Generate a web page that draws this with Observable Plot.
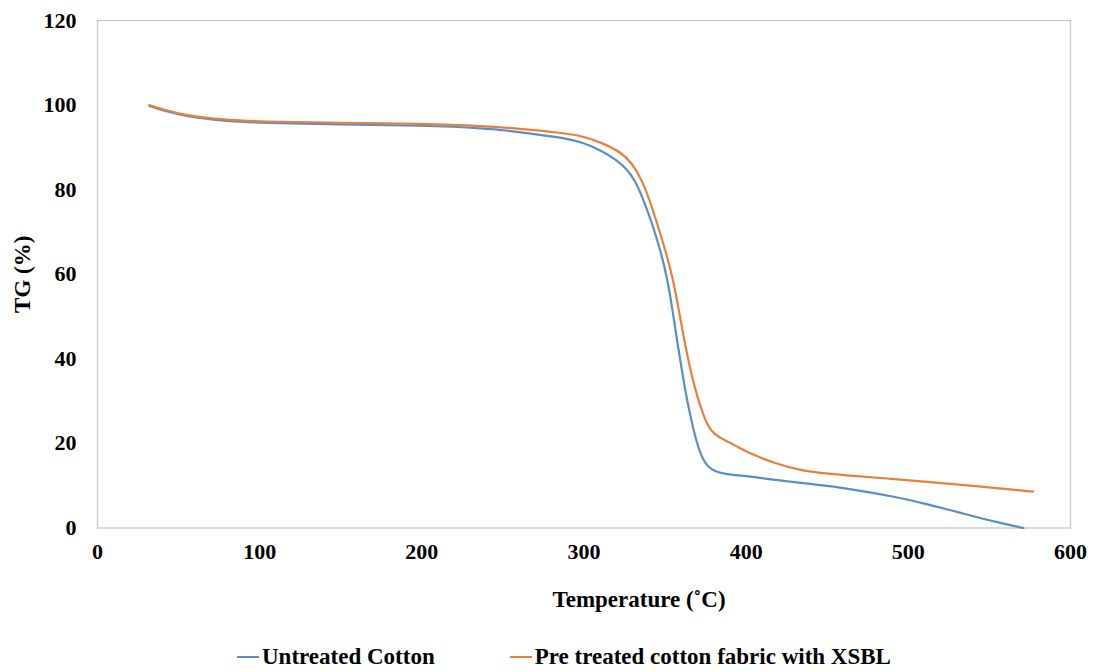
<!DOCTYPE html>
<html>
<head>
<meta charset="utf-8">
<script src="https://cdn.jsdelivr.net/npm/d3@7"></script>
<script src="https://cdn.jsdelivr.net/npm/@observablehq/plot@0.6"></script>
<style>
  body { margin: 0; background: #fff; font-family: "Liberation Serif", "Times New Roman", serif; }
  #legend { display: flex; align-items: center; padding-left: 237px; gap: 75px; margin-top: 14px; font-weight: bold; font-size: 23px; color: #000; }
  .item { display: flex; align-items: center; }
  .sw { width: 22px; height: 2px; margin-right: 3px; }
</style>
</head>
<body>
<div id="chart"></div>
<div id="legend"></div>
<script>
const seriesNames = ["Untreated Cotton", "Pre treated cotton fabric with XSBL"];
const seriesColors = ["#5B8FC4", "#E8803A"];

const untreatedT = [32, 40, 50, 60, 80, 100, 150, 200, 240, 256.5, 285.5, 300, 310.2, 319.4, 326.8, 331.7, 336.7, 342.2, 347.2, 351.5, 354.6, 357.7, 360.8, 363.2, 366.3, 370.0, 373.1, 376.2, 380.5, 387.3, 400, 413, 440, 464, 493, 510, 534, 555, 571];
const untreatedTG = [99.8, 98.8, 97.8, 97.0, 96.2, 95.8, 95.4, 95.2, 94.5, 93.8, 92.4, 91.1, 89.3, 87.2, 84.8, 82.0, 77.6, 71.8, 65.6, 58.8, 51.5, 43.5, 36.3, 30.9, 25.2, 19.5, 16.4, 14.5, 13.4, 12.7, 12.3, 11.6, 10.4, 9.3, 7.3, 5.8, 3.4, 1.3, 0];

const treatedT = [32, 40, 50, 60, 80, 100, 150, 200, 240, 256.5, 285.5, 300, 310.2, 322.5, 329.9, 336.1, 340.4, 345.3, 350.2, 355.2, 358.9, 362.6, 366.3, 370.0, 373.7, 376.8, 380.5, 385.4, 393.4, 402.7, 420, 433.5, 452, 464, 490, 514, 545, 577];
const treatedTG = [100.0, 99.0, 98.0, 97.3, 96.5, 96.1, 95.8, 95.6, 95.0, 94.5, 93.5, 92.6, 91.2, 89.0, 86.2, 81.9, 77.6, 71.8, 65.6, 58.5, 50.6, 42.8, 36.2, 30.9, 26.6, 23.8, 22.2, 21.0, 19.5, 17.5, 15.0, 13.6, 12.8, 12.4, 11.6, 10.8, 9.8, 8.6];

const xTicks = [0, 100, 200, 300, 400, 500, 600];
const yTicks = [0, 20, 40, 60, 80, 100, 120];

const rows = [
  ...untreatedT.map((t, i) => ({T: t, TG: untreatedTG[i], s: seriesNames[0]})),
  ...treatedT.map((t, i) => ({T: t, TG: treatedTG[i], s: seriesNames[1]}))
];

const chart = Plot.plot({
  width: 1093,
  height: 630,
  marginLeft: 97,
  marginRight: 23,
  marginTop: 20,
  marginBottom: 102.5,
  style: { fontFamily: "Liberation Serif, Times New Roman, serif", fontWeight: "bold", fontSize: "22px", color: "#000", background: "#fff" },
  x: { domain: [0, 600], ticks: xTicks },
  y: { domain: [0, 120], ticks: yTicks },
  color: { domain: seriesNames, range: seriesColors },
  marks: [
    Plot.frame({ stroke: "#c8c8c8", strokeWidth: 1.3 }),
    Plot.axisX({ ticks: xTicks, tickSize: 0, tickPadding: 15, label: null, fontSize: 22, fontWeight: "bold" }),
    Plot.axisY({ ticks: yTicks, tickSize: 0, tickPadding: 21, label: null, fontSize: 22, fontWeight: "bold" }),
    Plot.text(["Temperature (˚C)"], { frameAnchor: "bottom", dy: 79, dx: 55, fontSize: 23, fontWeight: "bold", fill: "#000" }),
    Plot.text(["TG (%)"], { frameAnchor: "left", textAnchor: "middle", dx: -75, rotate: -90, fontSize: 23, fontWeight: "bold", fill: "#000" }),
    Plot.line(rows, { x: "T", y: "TG", z: "s", stroke: "s", strokeWidth: 2.2, curve: "basis" })
  ]
});
document.getElementById("chart").appendChild(chart);

const legend = document.getElementById("legend");
seriesNames.forEach((n, i) => {
  const it = document.createElement("div");
  it.className = "item";
  const sw = document.createElement("span");
  sw.className = "sw";
  sw.style.background = seriesColors[i];
  const tx = document.createElement("span");
  tx.textContent = n;
  it.appendChild(sw);
  it.appendChild(tx);
  legend.appendChild(it);
});
</script>
</body>
</html>
